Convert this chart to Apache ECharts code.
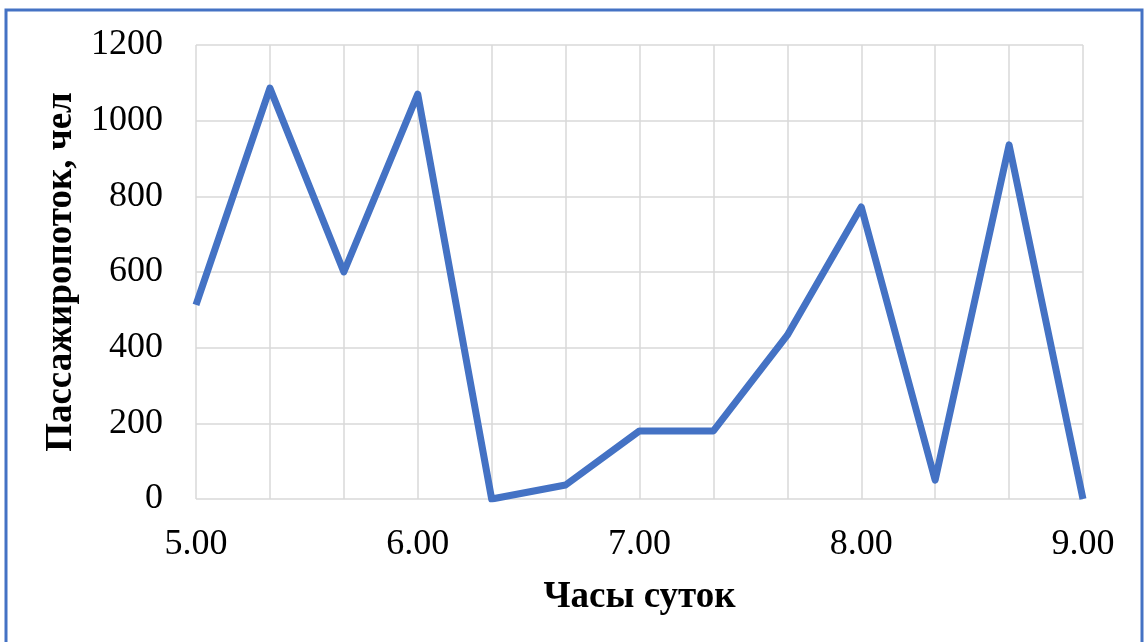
<!DOCTYPE html>
<html>
<head>
<meta charset="utf-8">
<script src="https://cdn.jsdelivr.net/npm/echarts@6/dist/echarts.min.js"></script>
<style>
html,body{margin:0;padding:0;background:#fff;}
#chart{width:1144px;height:642px;}
</style>
</head>
<body>
<div id="chart"></div>
<script>
const categories = ["5.00","5.20","5.40","6.00","6.20","6.40","7.00","7.20","7.40","8.00","8.20","8.40","9.00"];
const values = [513, 1086, 600, 1070, 0, 37, 180, 180, 433, 772, 50, 936, 0];
const xTitle = "Часы суток";
const yTitle = "Пассажиропоток, чел";

const chart = echarts.init(document.getElementById('chart'));
const font = '"Liberation Serif", "Times New Roman", serif';
chart.setOption({
  animation: false,
  backgroundColor: '#ffffff',
  graphic: [{
    type: 'rect',
    shape: {x: 6, y: 10, width: 1136, height: 660},
    style: {fill: 'none', stroke: '#4472C4', lineWidth: 3},
    silent: true
  }],
  grid: {left: 196, right: 61, top: 45, bottom: 143},
  xAxis: {
    type: 'category',
    data: categories,
    boundaryGap: false,
    name: xTitle,
    nameLocation: 'middle',
    nameGap: 80,
    nameTextStyle: {fontFamily: font, fontSize: 37, fontWeight: 'bold', color: '#000'},
    axisLine: {show: false},
    axisTick: {show: false},
    axisLabel: {interval: 2, margin: 28, fontFamily: font, fontSize: 36, color: '#000'},
    splitLine: {show: true, interval: 0, lineStyle: {color: '#d9d9d9', width: 1.5}}
  },
  yAxis: {
    type: 'value',
    min: 0, max: 1200, interval: 200,
    name: yTitle,
    nameLocation: 'middle',
    nameGap: 113,
    nameRotate: 90,
    nameTextStyle: {fontFamily: font, fontSize: 37, fontWeight: 'bold', color: '#000'},
    axisLine: {show: false},
    axisTick: {show: false},
    axisLabel: {margin: 33, fontFamily: font, fontSize: 36, color: '#000', formatter: v => String(v)},
    splitLine: {show: true, lineStyle: {color: '#d9d9d9', width: 1.5}}
  },
  series: [{
    type: 'line',
    data: values,
    symbol: 'none',
    lineStyle: {color: '#4472C4', width: 7, cap: 'butt', join: 'round'},
    itemStyle: {color: '#4472C4'}
  }]
});
</script>
</body>
</html>
